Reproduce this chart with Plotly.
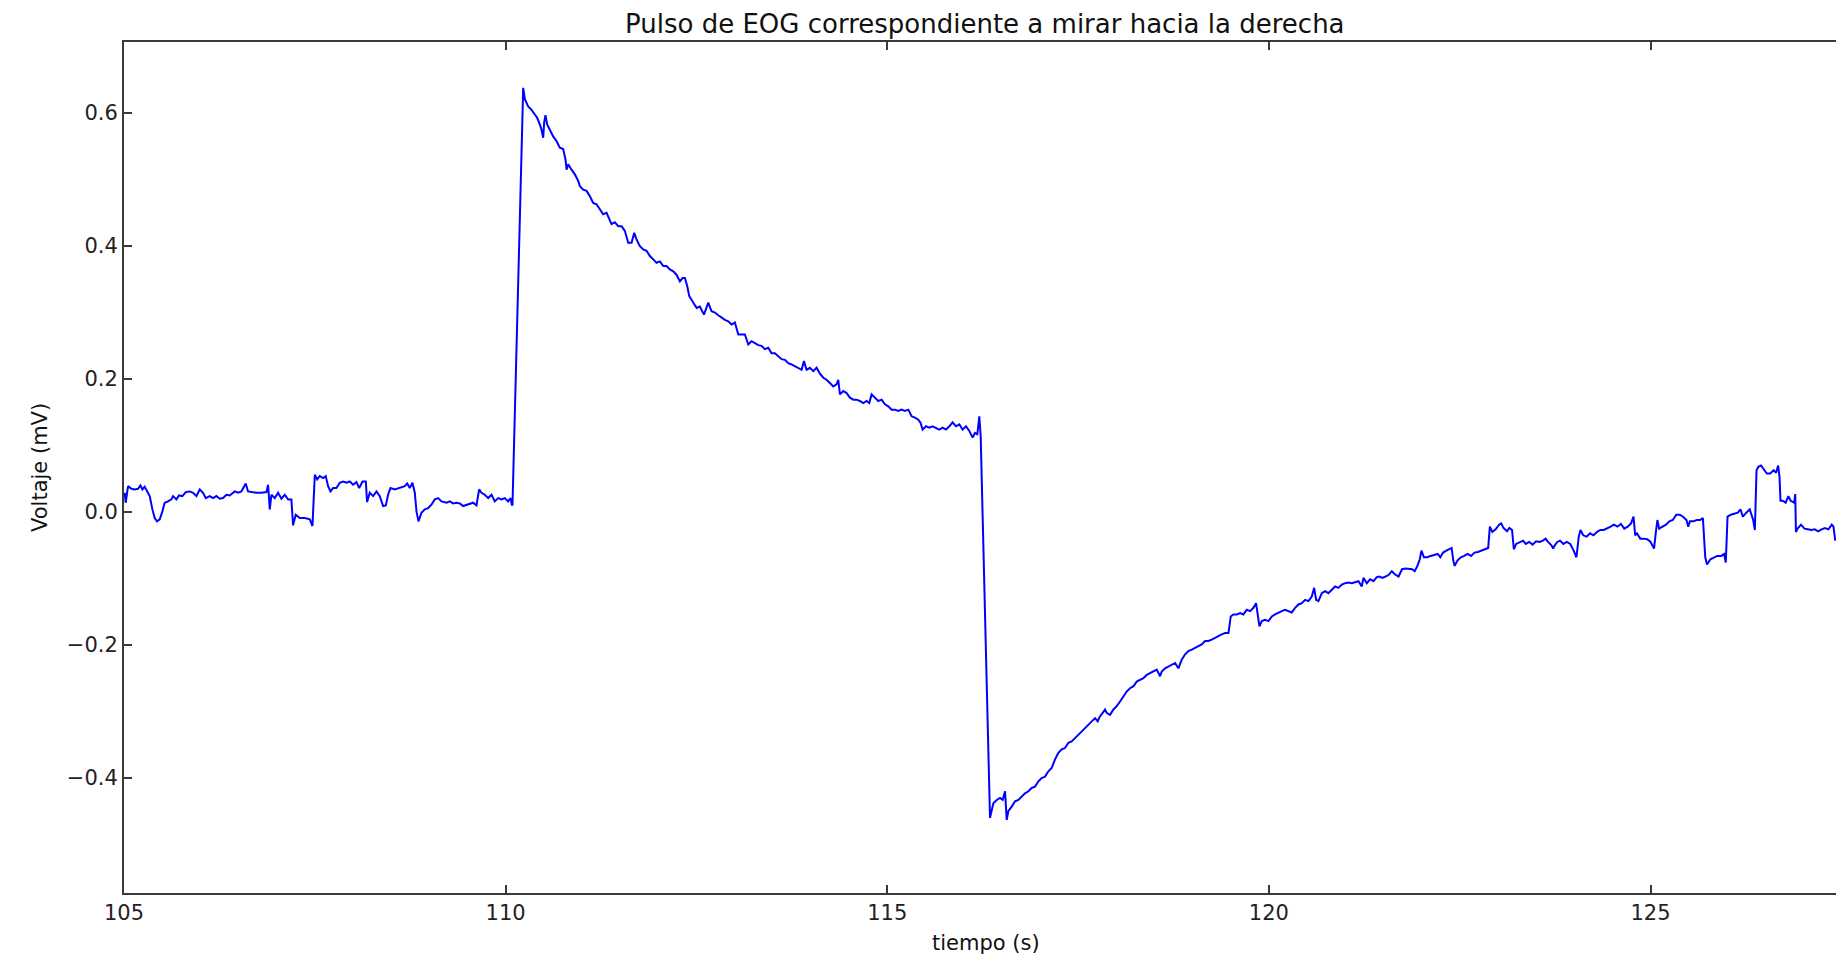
import plotly.graph_objects as go

# ---- data (time in s, voltage in mV) ----
t_pre = [105.009,105.022,105.053,105.097,105.140,105.184,105.215,105.241,105.271,105.302,
         105.337,105.372,105.402,105.433,105.468,105.503,105.533,105.577,105.621,105.643,
         105.686,105.721,105.765,105.809,105.861,105.905,105.949,105.992,106.036,106.071,
         106.124,106.167,106.211,106.254,106.298,106.342,106.385,106.451,106.494,106.538,
         106.595,106.625,106.669,106.735,106.800,106.866,106.888,106.910,106.931,106.975,
         107.019,107.062,107.106,107.150,107.193,107.215,107.250,107.303,107.369,107.434,
         107.469,107.500,107.530,107.565,107.609,107.643,107.674,107.705,107.740,107.783,
         107.827,107.871,107.915,107.958,108.002,108.046,108.081,108.124,108.168,108.185,
         108.220,108.264,108.308,108.351,108.395,108.430,108.460,108.491,108.548,108.613,
         108.679,108.710,108.744,108.779,108.810,108.832,108.858,108.897,108.941,108.985,
         109.028,109.072,109.116,109.160,109.225,109.269,109.312,109.356,109.400,109.443,
         109.487,109.531,109.574,109.618,109.653,109.684,109.727,109.771,109.815,109.858,
         109.902,109.946,109.989,110.033,110.064,110.081]
v_pre = [0.029,0.014,0.039,0.035,0.034,0.035,0.040,0.034,0.038,0.031,
         0.024,0.004,-0.009,-0.014,-0.011,0.001,0.014,0.016,0.019,0.024,
         0.019,0.025,0.024,0.030,0.031,0.029,0.024,0.034,0.029,0.021,
         0.024,0.021,0.024,0.020,0.021,0.026,0.025,0.031,0.029,0.031,
         0.043,0.031,0.030,0.029,0.029,0.030,0.041,0.004,0.026,0.021,
         0.029,0.020,0.026,0.019,0.019,-0.020,-0.004,-0.009,-0.009,-0.011,
         -0.021,0.056,0.049,0.054,0.051,0.054,0.039,0.031,0.036,0.036,
         0.044,0.046,0.044,0.046,0.041,0.045,0.036,0.046,0.046,0.015,
         0.029,0.024,0.031,0.024,0.009,0.010,0.026,0.036,0.034,0.036,
         0.039,0.043,0.036,0.044,0.029,0.001,-0.014,-0.001,0.004,0.006,
         0.011,0.019,0.021,0.016,0.014,0.016,0.013,0.014,0.013,0.009,
         0.011,0.013,0.014,0.010,0.034,0.029,0.026,0.021,0.026,0.016,
         0.021,0.019,0.021,0.016,0.021,0.011]

t_pos = [110.090,110.230,110.252,110.295,110.339,110.383,110.413,110.448,110.470,110.492,
         110.505,110.522,110.544,110.579,110.623,110.667,110.710,110.754,110.785,110.798,
         110.820,110.863,110.907,110.951,110.973,111.016,111.060,111.104,111.147,111.191,
         111.235,111.278,111.322,111.366,111.387,111.431,111.475,111.519,111.562,111.606,
         111.650,111.685,111.715,111.759,111.803,111.846,111.890,111.934,111.977,112.021,
         112.065,112.108,112.152,112.196,112.239,112.283,112.318,112.349,112.379,112.405,
         112.458,112.502,112.545,112.598,112.624,112.655,112.698,112.742,112.786,112.829,
         112.873,112.917,112.960,113.004,113.048,113.091,113.135,113.179,113.222,113.266,
         113.310,113.353,113.397,113.441,113.484,113.528,113.572,113.615,113.659,113.703,
         113.746,113.790,113.834,113.878,113.908,113.943,113.987,114.031,114.074,114.118,
         114.162,114.205,114.249,114.293,114.336,114.358,114.380,114.424,114.467,114.511,
         114.555,114.598,114.642,114.686,114.729,114.764,114.795,114.839,114.882,114.926,
         114.970,115.013,115.057,115.101,115.144,115.188,115.232,115.276,115.319,115.363,
         115.407,115.437,115.463,115.507,115.551,115.594,115.638,115.682,115.725,115.769,
         115.813,115.856,115.900,115.944,115.987,116.031,116.075,116.118,116.149,116.180,
         116.206,116.224]
v_pos = [0.011,0.638,0.621,0.610,0.605,0.598,0.593,0.583,0.575,0.563,
         0.586,0.597,0.583,0.575,0.565,0.558,0.548,0.546,0.530,0.515,
         0.523,0.515,0.508,0.498,0.490,0.485,0.483,0.475,0.465,0.463,
         0.455,0.448,0.450,0.438,0.433,0.436,0.430,0.430,0.423,0.405,
         0.405,0.420,0.410,0.400,0.395,0.393,0.385,0.380,0.375,0.377,
         0.370,0.370,0.365,0.362,0.357,0.347,0.352,0.352,0.340,0.325,
         0.315,0.307,0.309,0.297,0.305,0.315,0.302,0.300,0.296,0.292,
         0.289,0.287,0.282,0.285,0.267,0.267,0.267,0.252,0.257,0.254,
         0.251,0.250,0.245,0.247,0.239,0.239,0.234,0.230,0.229,0.224,
         0.222,0.219,0.217,0.214,0.227,0.214,0.217,0.212,0.217,0.208,
         0.202,0.199,0.194,0.189,0.192,0.199,0.177,0.182,0.179,0.172,
         0.169,0.169,0.167,0.164,0.167,0.164,0.177,0.172,0.167,0.169,
         0.162,0.159,0.154,0.154,0.152,0.154,0.152,0.154,0.144,0.142,
         0.139,0.134,0.124,0.129,0.127,0.129,0.127,0.124,0.127,0.124,
         0.129,0.135,0.129,0.132,0.124,0.129,0.122,0.112,0.119,0.117,
         0.144,0.114]

t_neg = [116.346,116.368,116.390,116.434,116.477,116.512,116.543,116.565,116.586,116.630,
         116.674,116.718,116.761,116.805,116.849,116.892,116.936,116.980,117.023,117.067,
         117.111,117.154,117.198,117.242,117.285,117.329,117.373,117.416,117.460,117.504,
         117.548,117.591,117.635,117.679,117.722,117.757,117.788,117.823,117.853,117.875,
         117.919,117.963,118.006,118.050,118.094,118.137,118.181,118.225,118.268,118.312,
         118.356,118.399,118.443,118.487,118.531,118.574,118.596,118.640,118.683,118.727,
         118.771,118.814,118.858,118.902,118.945,118.989,119.033,119.077,119.120,119.164,
         119.208,119.251,119.295,119.339,119.382,119.426,119.470,119.500,119.535,119.579,
         119.623,119.666,119.710,119.754,119.797,119.832,119.854,119.876,119.907,119.950,
         119.994,120.038,120.081,120.125,120.169,120.212,120.256,120.300,120.344,120.387,
         120.431,120.475,120.518,120.562,120.593,120.619,120.649,120.693,120.737,120.780,
         120.824,120.868,120.912,120.955,120.999,121.043,121.086,121.130,121.174,121.217,
         121.239,121.283,121.326,121.370,121.414,121.449]
v_neg = [-0.460,-0.448,-0.438,-0.433,-0.430,-0.433,-0.420,-0.463,-0.450,-0.443,
         -0.435,-0.433,-0.428,-0.423,-0.420,-0.415,-0.413,-0.405,-0.400,-0.398,
         -0.390,-0.385,-0.372,-0.362,-0.357,-0.355,-0.347,-0.345,-0.340,-0.335,
         -0.330,-0.325,-0.320,-0.315,-0.310,-0.315,-0.307,-0.302,-0.297,-0.302,
         -0.305,-0.297,-0.292,-0.285,-0.277,-0.270,-0.265,-0.262,-0.255,-0.252,
         -0.250,-0.245,-0.242,-0.240,-0.237,-0.247,-0.240,-0.235,-0.232,-0.229,
         -0.227,-0.235,-0.222,-0.214,-0.209,-0.207,-0.204,-0.202,-0.199,-0.194,
         -0.194,-0.192,-0.189,-0.187,-0.184,-0.182,-0.182,-0.157,-0.154,-0.154,
         -0.152,-0.154,-0.147,-0.149,-0.144,-0.137,-0.157,-0.172,-0.164,-0.162,
         -0.164,-0.157,-0.154,-0.151,-0.149,-0.147,-0.149,-0.151,-0.144,-0.139,
         -0.137,-0.132,-0.134,-0.127,-0.114,-0.132,-0.134,-0.122,-0.119,-0.122,
         -0.117,-0.112,-0.114,-0.109,-0.107,-0.106,-0.107,-0.106,-0.104,-0.112,
         -0.099,-0.107,-0.101,-0.104,-0.098,-0.097]

t_tail = [121.484,121.529,121.574,121.610,121.654,121.699,121.744,121.789,121.834,121.878,
          121.910,121.946,121.977,121.999,122.031,122.075,122.120,122.165,122.210,122.246,
          122.282,122.326,122.371,122.394,122.416,122.434,122.470,122.515,122.559,122.604,
          122.649,122.694,122.738,122.783,122.828,122.873,122.895,122.927,122.971,123.016,
          123.043,123.074,123.119,123.151,123.186,123.209,123.240,123.285,123.330,123.366,
          123.410,123.455,123.500,123.545,123.590,123.625,123.657,123.702,123.724,123.746,
          123.778,123.814,123.858,123.903,123.948,123.993,124.029,124.060,124.082,124.118,
          124.163,124.208,124.253,124.297,124.342,124.387,124.432,124.477,124.521,124.566,
          124.611,124.656,124.701,124.745,124.777,124.799,124.822,124.866,124.911,124.956,
          125.001,125.046,125.068,125.090,125.113,125.158,125.202,125.247,125.292,125.337,
          125.382,125.426,125.471,125.494,125.516,125.561,125.606,125.650,125.686,125.717,
          125.740,125.785,125.829,125.874,125.928,125.964,125.986,126.009,126.053,126.098,
          126.143,126.179,126.210,126.255,126.300,126.345,126.367,126.389,126.412,126.448,
          126.479,126.524,126.569,126.613,126.645,126.672,126.690,126.703,126.734,126.770,
          126.806,126.837,126.882,126.896,126.905,126.927,126.972,127.017,127.061,127.106,
          127.151,127.196,127.241,127.285,127.330,127.375,127.397,127.420]
v_tail = [-0.099,-0.097,-0.094,-0.089,-0.094,-0.097,-0.086,-0.085,-0.086,-0.086,
          -0.089,-0.081,-0.071,-0.058,-0.068,-0.068,-0.066,-0.065,-0.063,-0.068,
          -0.061,-0.058,-0.055,-0.054,-0.073,-0.081,-0.073,-0.068,-0.066,-0.063,
          -0.066,-0.061,-0.060,-0.058,-0.055,-0.054,-0.022,-0.030,-0.026,-0.019,
          -0.017,-0.024,-0.029,-0.024,-0.027,-0.056,-0.048,-0.045,-0.043,-0.048,
          -0.045,-0.049,-0.044,-0.045,-0.043,-0.040,-0.045,-0.050,-0.055,-0.050,
          -0.045,-0.043,-0.048,-0.045,-0.048,-0.058,-0.068,-0.037,-0.027,-0.035,
          -0.037,-0.032,-0.035,-0.030,-0.027,-0.027,-0.025,-0.022,-0.019,-0.022,
          -0.018,-0.025,-0.022,-0.017,-0.007,-0.035,-0.032,-0.040,-0.040,-0.041,
          -0.045,-0.055,-0.032,-0.012,-0.025,-0.022,-0.019,-0.014,-0.012,-0.004,
          -0.004,-0.007,-0.012,-0.022,-0.014,-0.014,-0.012,-0.012,-0.009,-0.068,
          -0.079,-0.071,-0.068,-0.066,-0.066,-0.063,-0.076,-0.007,-0.004,-0.003,
          -0.001,0.004,-0.007,-0.001,0.004,-0.012,-0.027,0.063,0.068,0.070,
          0.065,0.058,0.058,0.063,0.059,0.070,0.053,0.017,0.017,0.014,
          0.024,0.017,0.014,0.027,-0.030,-0.025,-0.019,-0.025,-0.026,-0.027,
          -0.026,-0.029,-0.026,-0.024,-0.026,-0.019,-0.022,-0.043]

x_ticks = [105, 110, 115, 120, 125]
y_ticks = [-0.4, -0.2, 0.0, 0.2, 0.4, 0.6]
y_ticktext = ["\u22120.4", "\u22120.2", "0.0", "0.2", "0.4", "0.6"]

title_text = "Pulso de EOG correspondiente a mirar hacia la derecha"
x_label = "tiempo (s)"
y_label = "Voltaje (mV)"

t_all = t_pre + t_pos + t_neg + t_tail
v_all = v_pre + v_pos + v_neg + v_tail

# ---- figure ----
W, H = 1836, 958
ML, MR, MT, MB = 124, 0, 42, 65
plot_w = W - ML - MR
plot_h = H - MT - MB

def px_to_paper_x(px):
    return (px - ML) / plot_w

def px_to_paper_y(py):
    return (H - MB - py) / plot_h

font_family = "DejaVu Sans"
fig = go.Figure()
fig.add_trace(go.Scatter(x=t_all, y=v_all, mode="lines",
                         line=dict(color="#0000ff", width=2),
                         hoverinfo="skip", showlegend=False))

axis_common = dict(showgrid=False, zeroline=False, showline=True,
                   linecolor="#3a3a3a", linewidth=2,
                   ticks="inside", ticklen=8, tickwidth=1.5, tickcolor="#3a3a3a",
                   tickfont=dict(family=font_family, size=21, color="#222222"))

fig.update_layout(
    width=W, height=H,
    margin=dict(l=ML, r=MR, t=MT, b=MB, pad=0),
    paper_bgcolor="white", plot_bgcolor="white",
    xaxis=dict(range=[105, 127.43], tickvals=x_ticks, mirror="ticks", **axis_common),
    yaxis=dict(range=[-0.573, 0.707], tickvals=y_ticks, ticktext=y_ticktext,
               mirror=False, **axis_common),
    annotations=[
        dict(text=title_text, xref="paper", yref="paper",
             x=px_to_paper_x(985), y=px_to_paper_y(24), xanchor="center", yanchor="middle",
             showarrow=False, font=dict(family=font_family, size=26, color="#111111")),
        dict(text=x_label, xref="paper", yref="paper",
             x=px_to_paper_x(986), y=px_to_paper_y(943), xanchor="center", yanchor="middle",
             showarrow=False, font=dict(family=font_family, size=21, color="#111111")),
        dict(text=y_label, xref="paper", yref="paper", textangle=-90,
             x=px_to_paper_x(40), y=px_to_paper_y(468), xanchor="center", yanchor="middle",
             showarrow=False, font=dict(family=font_family, size=21, color="#111111")),
    ],
)

fig.write_html("out.html", config={"displayModeBar": False},
               post_script="document.body.style.margin='0px';document.body.style.overflow='hidden';")
